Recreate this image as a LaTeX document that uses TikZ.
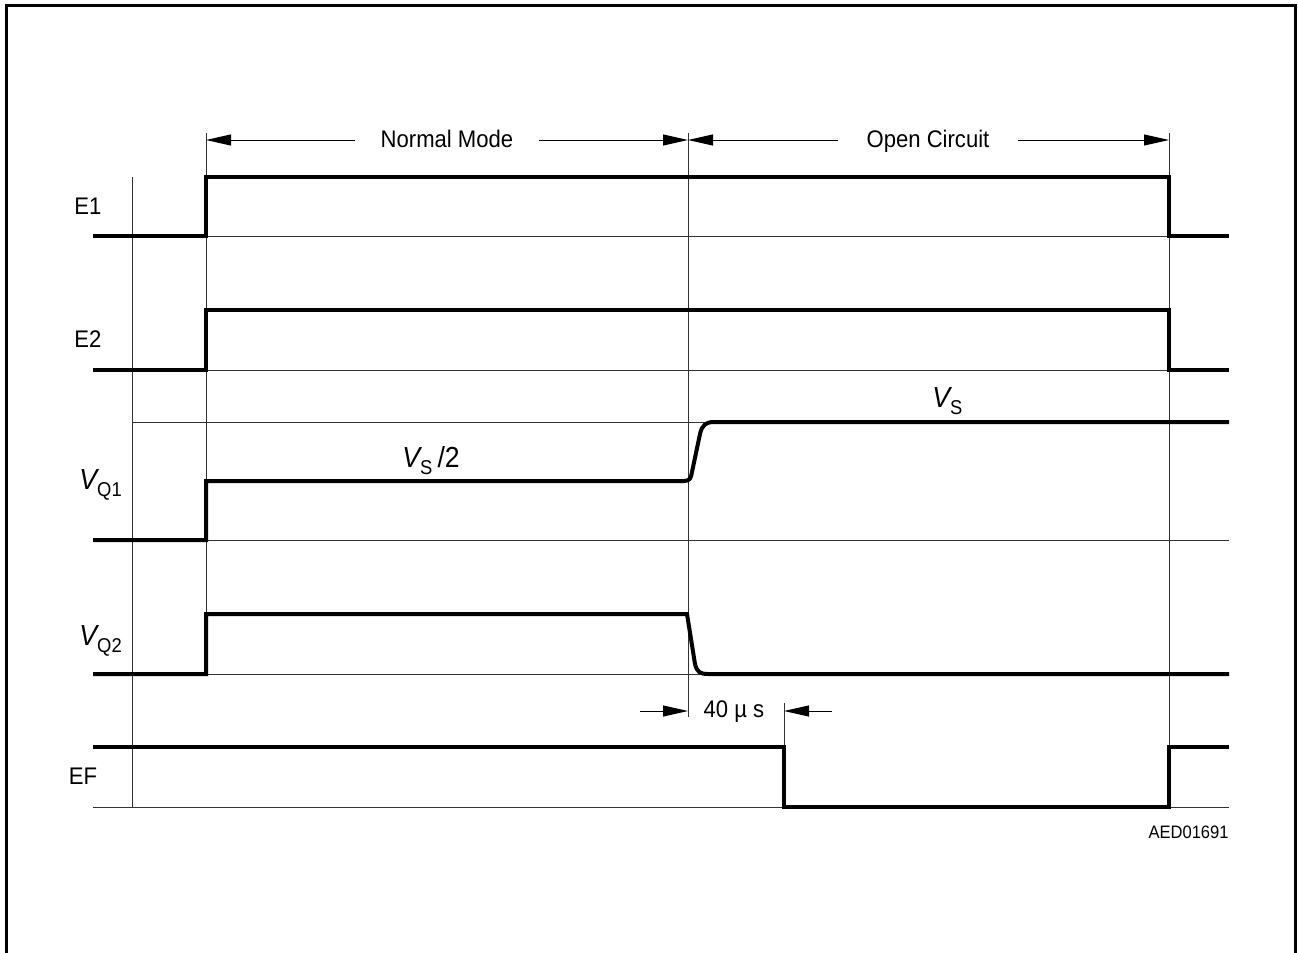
\documentclass[tikz,border=0pt]{standalone}
\usepackage{fontspec}
\setmainfont[FakeStretch=0.92]{Liberation Sans}
\usetikzlibrary{arrows.meta, positioning, calc}

% Signal name with an italic V and a subscript
\newcommand{\vsig}[1]{{\fontsize{14.5}{16}\selectfont\itshape V}\raisebox{-3.5pt}{\fontsize{10}{12}\selectfont #1}}

\begin{document}
\begin{tikzpicture}[x=0.5pt, y=-0.5pt,
    sig/.style={line width=2pt, line join=miter},
    guide/.style={line width=0.5pt, draw=black!80},
    dim/.style={line width=0.5pt, -{Triangle[length=12.5pt, width=5.5pt]}},
    lbl/.style={font=\fontsize{12}{14}\selectfont, inner sep=0pt}]

    \useasboundingbox (0,0) rectangle (1298,953);

    % Rahmen
    \draw[line width=1.5pt] (6,953) -- (6,5) -- (1295,5) -- (1295,953);

    % Zeitmarken
    \coordinate (tA) at (206,140);
    \coordinate (tB) at (688,140);
    \coordinate (tC) at (1169,140);
    \coordinate (dA) at (640,711);
    \coordinate (dB) at (688,711);
    \coordinate (dC) at (784,711);
    \coordinate (dD) at (832,711);

    % Hilfslinien
    \draw[guide] (132,177) -- (132,807);
    \draw[guide] (206,133) -- (206,674);
    \draw[guide] (688,133) -- (688,717);
    \draw[guide] (1169,133) -- (1169,807);
    \draw[guide] (784,703) -- (784,747);
    \draw[guide] (206,236) -- (1169,236);
    \draw[guide] (206,370) -- (1169,370);
    \draw[guide] (132,422) -- (712,422);
    \draw[guide] (206,540) -- (1229,540);
    \draw[guide] (206,674) -- (706,674);
    \draw[guide] (93,807) -- (1229,807);

    % Signale
    \draw[sig] (93,236) -- (206,236) -- (206,177) -- (1169,177) -- (1169,236) -- (1229,236);
    \draw[sig] (93,370) -- (206,370) -- (206,310) -- (1169,310) -- (1169,370) -- (1229,370);
    \draw[sig] (93,540) -- (206,540) -- (206,481) -- (684,481)
        .. controls (690,481) and (691,478) .. (692,472) -- (700,434)
        .. controls (702,425) and (706,422) .. (714,422) -- (1229,422);
    \draw[sig] (93,674) -- (206,674) -- (206,614) -- (687,614)
        -- (695,664) .. controls (697,672) and (700,674) .. (708,674) -- (1229,674);
    \draw[sig] (93,747) -- (784,747) -- (784,807) -- (1169,807) -- (1169,747) -- (1229,747);

    % Signalnamen
    \node[lbl, anchor=base] (lblE1) at (88,214) {E1};
    \node[lbl, anchor=base] (lblE2) at (88,347) {E2};
    \node[inner sep=0pt, anchor=base west] (lblVQ1) at (79,489) {\vsig{Q1}};
    \node[inner sep=0pt, anchor=base west] (lblVQ2) at (79,645) {\vsig{Q2}};
    \node[lbl, anchor=base] (lblEF) at (83,784) {EF};

    % Pegel
    \node[inner sep=0pt, anchor=base west] (half) at (402,467) {\vsig{S} {\fontsize{14.5}{16}\selectfont/2}};
    \node[inner sep=0pt, anchor=base west] (full) at (932,407) {\vsig{S}};

    % Bereiche
    \node[lbl, inner xsep=12.5pt, anchor=base] (normal) at (447,147) {Normal Mode};
    \node[lbl, inner xsep=14pt, anchor=base] (open) at (928,147) {Open Circuit};
    \draw[dim] (normal.west |- tA) -- (tA);
    \draw[dim] (normal.east |- tA) -- (tB);
    \draw[dim] (open.west |- tA) -- (tB);
    \draw[dim] (open.east |- tA) -- (tC);

    % Verzoegerung
    \node[lbl, anchor=base] (delay) at (734,717) {40 µ s};
    \draw[dim] (dA) -- (dB);
    \draw[dim] (dD) -- (dC);

    % Kennung
    \node[lbl, font=\fontsize{9}{11}\selectfont, anchor=base east] (code) at (1229,838) {AED01691};

\end{tikzpicture}
\end{document}
